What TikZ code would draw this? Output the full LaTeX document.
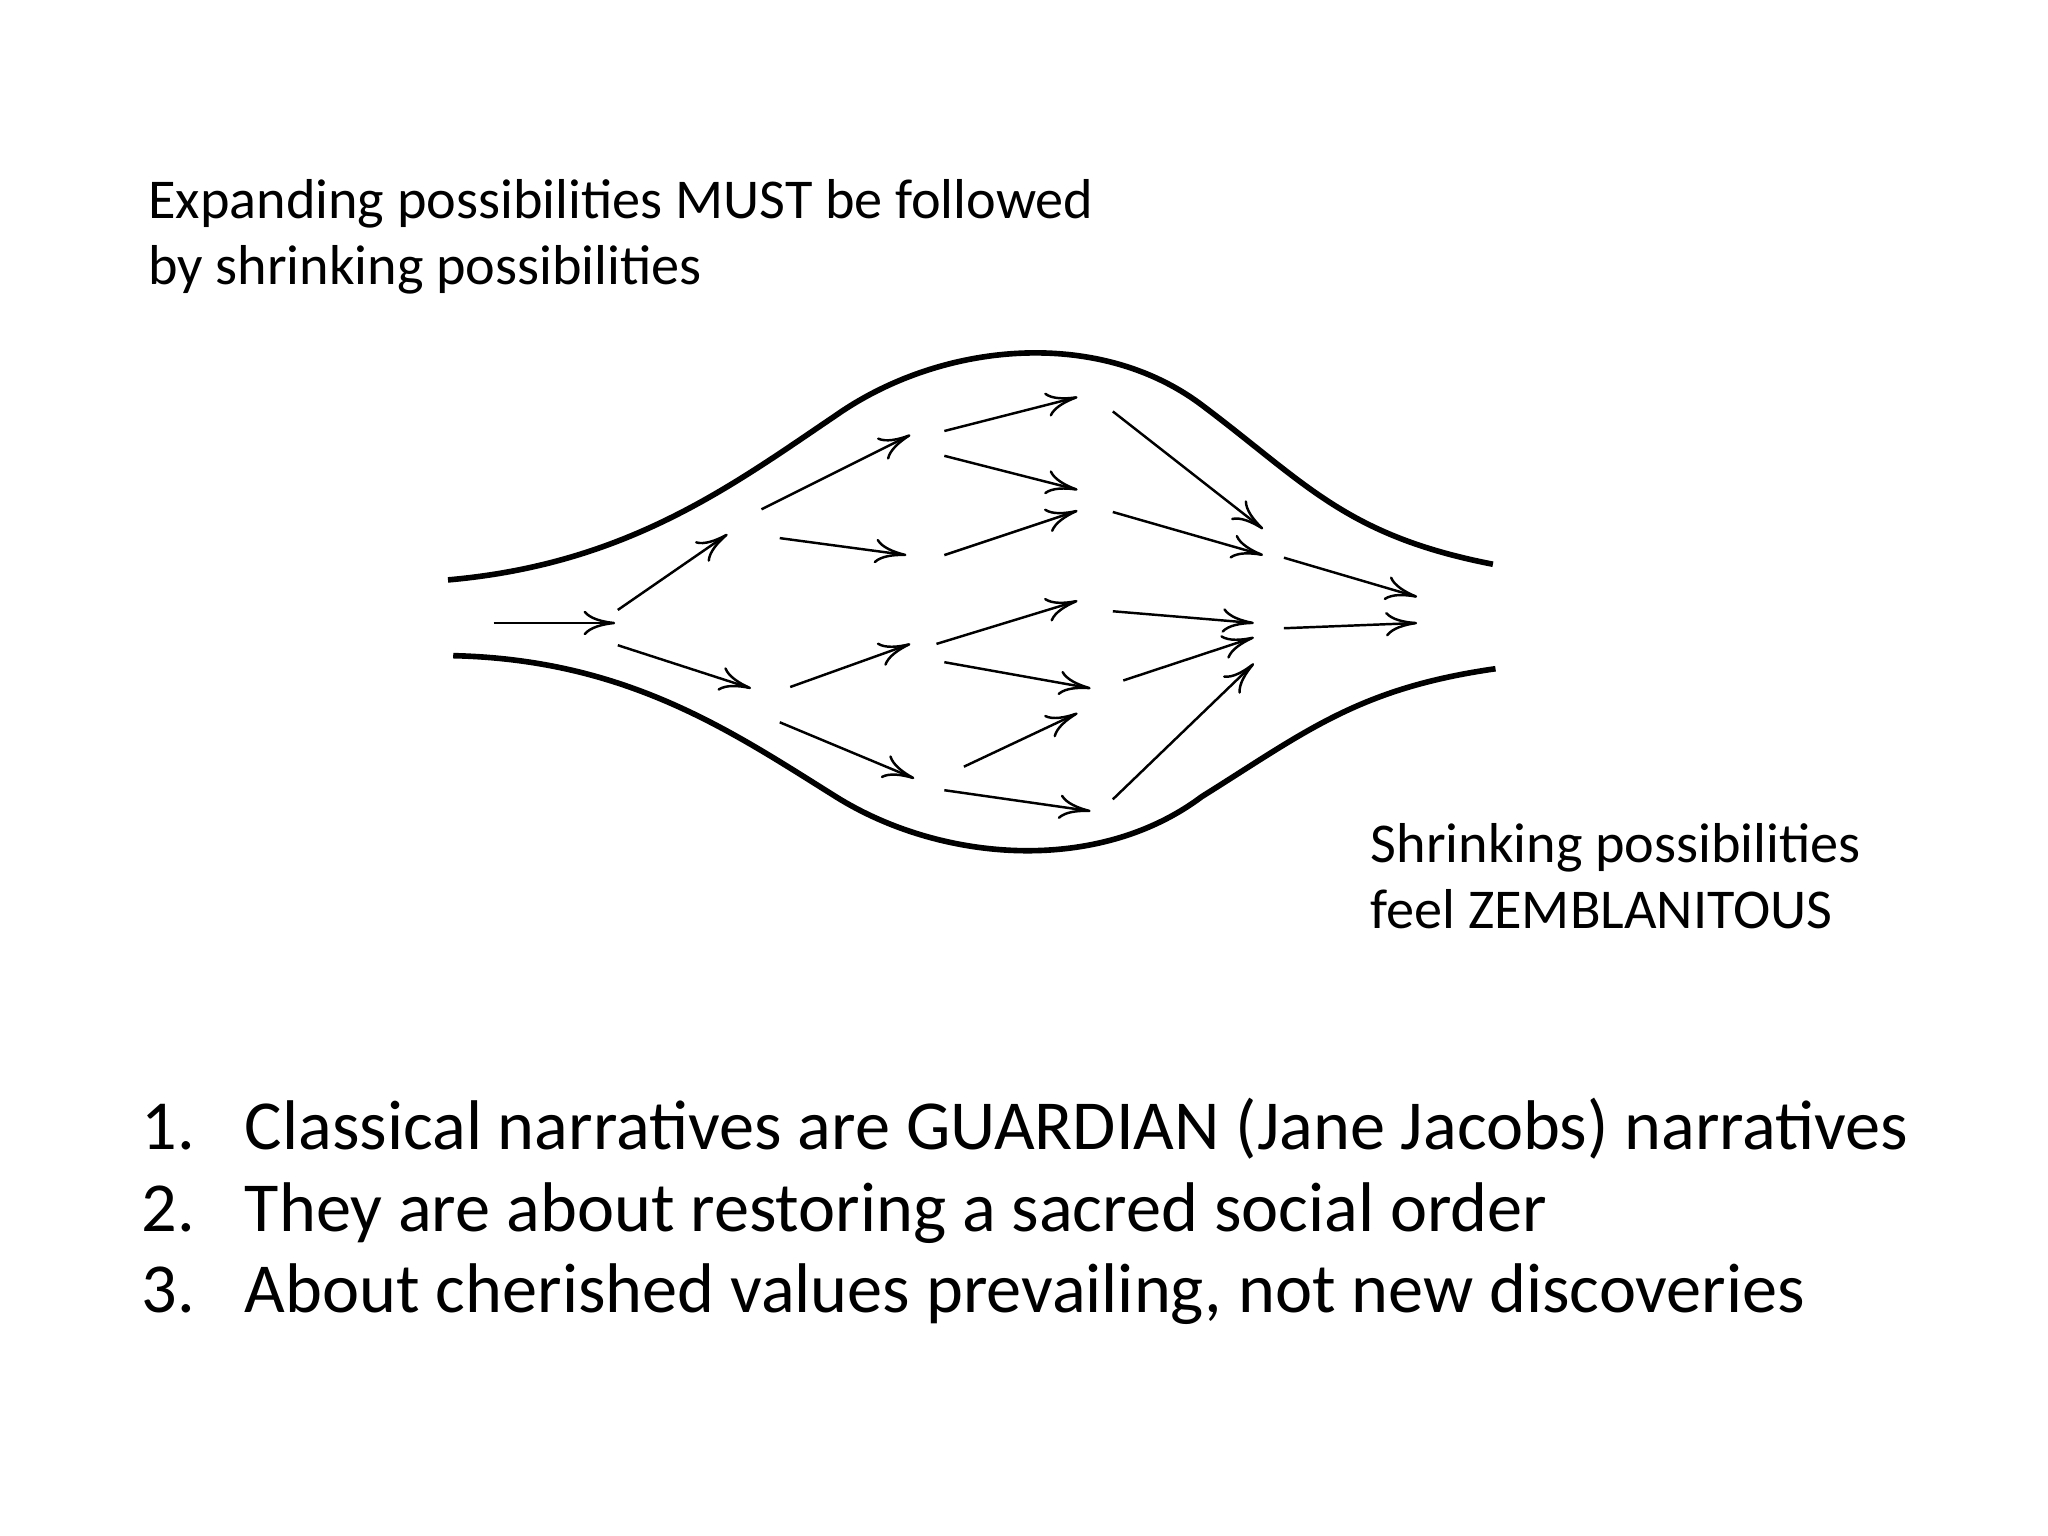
\documentclass[tikz,border=0pt]{standalone}
\usepackage{fontspec}
\setmainfont{Carlito}
\usetikzlibrary{arrows.meta}
\begin{document}
\begin{tikzpicture}[x=0.01306cm,y=-0.01306cm,
  arr/.style={-{To[length=9pt,width=7pt]},line width=0.7pt},
  wall/.style={line width=1.6pt},
  small/.style={anchor=base west,inner sep=0,font=\fontsize{16}{19}\selectfont},
  big/.style={anchor=base west,inner sep=0,font=\fontsize{20}{24}\selectfont}]
\useasboundingbox (0,0) rectangle (1568,1176);
\draw[wall] (343,444) .. controls (480,432) and (560,372) .. (640,318) .. controls (720,262) and (840,250) .. (920,310) .. controls (1000,370) and (1030,410) .. (1143,432);
\draw[wall] (347,502) .. controls (480,505) and (560,560) .. (640,610) .. controls (720,660) and (840,670) .. (920,610) .. controls (1000,560) and (1040,527) .. (1145,512);
\foreach \a/\b/\c/\d in {378/477/471/477, 473/467/557/409, 473/494/575/527, 583/390/697/333, 597/412/694/425, 605/526/697/493, 597/553/700/596, 723/330/825/304, 723/349/825/375, 723/425/825/391, 717/493/825/460, 723/507/835/527, 738/587/825/546, 723/605/835/621, 852/315/967/405, 852/392/967/425, 852/468/960/477, 860/521/960/488, 852/612/960/508, 983/427/1085/457, 983/481/1085/477}
  \draw[arr] (\a,\b) -- (\c,\d);
\node[small] (t1) at (113,167) {Expanding possibilities MUST be followed};
\node[small] (t2) at (113,218) {by shrinking possibilities};
\node[small] (s1) at (1049,660) {Shrinking possibilities};
\node[small] (s2) at (1049,711) {feel ZEMBLANITOUS};
\node[big] (n1) at (108,880) {1.};
\node[big] (l1) at (187,880) {Classical narratives are GUARDIAN (Jane Jacobs) narratives};
\node[big] (n2) at (108,943) {2.};
\node[big] (l2) at (187,943) {They are about restoring a sacred social order};
\node[big] (n3) at (108,1005) {3.};
\node[big] (l3) at (187,1005) {About cherished values prevailing, not new discoveries};
\end{tikzpicture}
\end{document}
